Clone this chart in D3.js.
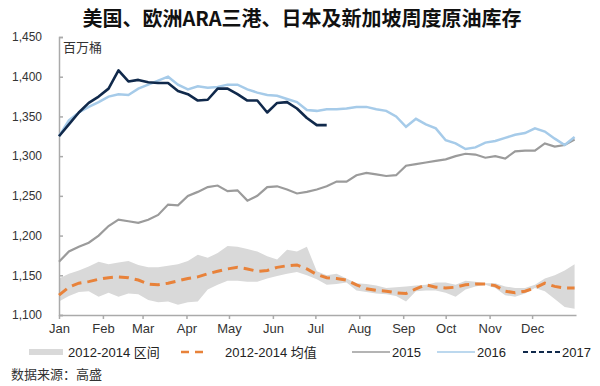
<!DOCTYPE html>
<html><head><meta charset="utf-8">
<script src="https://cdn.jsdelivr.net/npm/d3@7"></script>
<style>
html,body{margin:0;padding:0;background:#fff;}
svg text{font-family:"Liberation Sans",Arial,"Noto Sans CJK SC",sans-serif;}
</style></head>
<body><svg id="c" width="600" height="386"></svg>
<script>
const title = "美国、欧洲ARA三港、日本及新加坡周度原油库存";
const unitLabel = "百万桶";
const sourceLabel = "数据来源：高盛";
const monthLabels = ["Jan","Feb","Mar","Apr","May","Jun","Jul","Aug","Sep","Oct","Nov","Dec"];
const yTicks = [1100,1150,1200,1250,1300,1350,1400,1450];
const legendLabels = ["2012-2014 区间","2012-2014 均值","2015","2016","2017"];

// weekly values (week index 0..52)
const band2012_2014Upper = [1146,1152,1156,1161,1167,1164,1166,1168,1163,1160,1160,1162,1164,1168,1176,1172,1178,1187,1186,1183,1180,1174,1170,1182,1180,1186,1155,1150,1152,1146,1140,1139,1137,1134,1135,1136,1137,1138,1141,1141,1138,1143,1142,1140,1140,1136,1134,1134,1138,1146,1150,1156,1164];
const band2012_2014Lower = [1117,1124,1129,1130,1123,1128,1123,1127,1126,1119,1116,1117,1113,1116,1117,1132,1138,1143,1143,1142,1142,1146,1149,1152,1154,1150,1145,1138,1139,1141,1131,1129,1127,1126,1124,1117,1130,1131,1131,1128,1123,1132,1136,1138,1134,1125,1123,1127,1134,1130,1120,1110,1108];
const avg2012_2014 = [1125,1135,1140,1142,1145,1147,1148,1147,1144,1139,1138,1140,1143,1146,1148,1152,1155,1158,1160,1158,1155,1156,1160,1162,1163,1158,1151,1147,1146,1144,1138,1133,1131,1130,1128,1127,1133,1138,1135,1134,1135,1138,1139,1139,1137,1130,1128,1130,1134,1140,1136,1134,1134];
const series2015 = [1167,1180,1186,1191,1200,1212,1220,1218,1216,1220,1226,1239,1238,1250,1255,1261,1263,1256,1257,1244,1250,1261,1262,1258,1253,1255,1258,1262,1268,1268,1276,1279,1277,1275,1276,1288,1290,1292,1294,1296,1300,1303,1302,1298,1300,1297,1306,1307,1307,1316,1312,1314,1321];
const series2016 = [1325,1345,1355,1362,1368,1375,1378,1377,1385,1390,1395,1400,1390,1384,1388,1386,1387,1390,1390,1384,1380,1377,1376,1372,1368,1358,1357,1359,1359,1360,1362,1362,1359,1357,1350,1337,1347,1340,1335,1320,1316,1309,1311,1317,1319,1323,1327,1329,1335,1331,1322,1314,1324];
const series2017 = [1325,1340,1355,1367,1375,1385,1408,1394,1396,1393,1392,1392,1382,1378,1370,1371,1385,1385,1378,1370,1370,1355,1367,1368,1360,1348,1339,1339];

const svg = d3.select("#c");
const x = d3.scaleTime().domain([new Date(2017,0,1), new Date(2018,0,1)]).range([59,576]);
const y = d3.scaleLinear().domain([1100,1450]).range([315,37]);
const wk = i => d3.timeDay.offset(new Date(2017,0,1), 7*i);

const txt = "#333";
svg.append("text").attr("x",302).attr("y",26).attr("text-anchor","middle")
  .attr("font-size",20).attr("font-weight","bold").attr("fill","#111")
  .style("font-family","'Noto Sans CJK SC',sans-serif").text(title);

// band
const bandData = band2012_2014Upper.map((u,i)=>({i,u,l:band2012_2014Lower[i]}));
svg.append("path").datum(bandData)
  .attr("d", d3.area().x(d=>x(wk(d.i))).y0(d=>y(d.l)).y1(d=>y(d.u)))
  .attr("fill","#d9d9d9");

// axes
const yAxis = svg.append("g").attr("transform","translate(59,0)")
  .call(d3.axisLeft(y).tickValues(yTicks).tickFormat(d3.format(",")).tickSize(-4).tickPadding(17));
yAxis.selectAll("text").attr("font-size",12).attr("fill",txt);
const xAxis = svg.append("g").attr("transform","translate(0,315)")
  .call(d3.axisBottom(x).ticks(d3.timeMonth.every(1)).tickFormat((d,i)=>monthLabels[d.getMonth()]).tickSize(4).tickSizeOuter(0).tickPadding(5));
xAxis.selectAll("text").attr("font-size",13).attr("fill",txt);
// remove a tick at 2018-01-01 if any
xAxis.selectAll(".tick").filter(d=>d.getFullYear()>2017).remove();
svg.selectAll(".domain").attr("stroke","#aaa").attr("stroke-width",1.5);
svg.selectAll(".tick line").attr("stroke","#aaa").attr("stroke-width",1.5);

svg.append("text").attr("x",63).attr("y",52).attr("font-size",13).attr("fill",txt)
  .style("font-family","'Noto Sans CJK SC',sans-serif").text(unitLabel);

const line = d3.line().x((d,i)=>x(wk(i))).y(d=>y(d));
svg.append("path").datum(avg2012_2014).attr("d",line).attr("fill","none")
  .attr("stroke","#e8823a").attr("stroke-width",3).attr("stroke-dasharray","10,6");
svg.append("path").datum(series2015).attr("d",line).attr("fill","none")
  .attr("stroke","#9b9b9b").attr("stroke-width",2.2);
svg.append("path").datum(series2016).attr("d",line).attr("fill","none")
  .attr("stroke","#a6cbe9").attr("stroke-width",2.5);
svg.append("path").datum(series2017).attr("d",line).attr("fill","none")
  .attr("stroke","#10294b").attr("stroke-width",2.6).attr("stroke-linejoin","round");

// legend
const ly = 352;
const lg = svg.append("g");
lg.append("rect").attr("x",29).attr("y",ly-3).attr("width",34).attr("height",6).attr("fill","#d9d9d9");
lg.append("line").attr("x1",181).attr("x2",203).attr("y1",ly).attr("y2",ly)
  .attr("stroke","#e8823a").attr("stroke-width",2.5).attr("stroke-dasharray","8,6");
lg.append("line").attr("x1",352).attr("x2",390).attr("y1",ly).attr("y2",ly)
  .attr("stroke","#9b9b9b").attr("stroke-width",1.5);
lg.append("line").attr("x1",437).attr("x2",475).attr("y1",ly).attr("y2",ly)
  .attr("stroke","#a6cbe9").attr("stroke-width",1.5);
lg.append("line").attr("x1",523).attr("x2",560).attr("y1",ly).attr("y2",ly)
  .attr("stroke","#10294b").attr("stroke-width",2).attr("stroke-dasharray","5,3");
const lx = [68,225,392,477,562];
legendLabels.forEach((t,i)=>{
  lg.append("text").attr("x",lx[i]).attr("y",ly+4.5).attr("font-size",13).attr("fill","#222").text(t);
});

svg.append("text").attr("x",11).attr("y",379).attr("font-size",13).attr("fill",txt)
  .style("font-family","'Noto Sans CJK SC',sans-serif").text(sourceLabel);
</script></body></html>
